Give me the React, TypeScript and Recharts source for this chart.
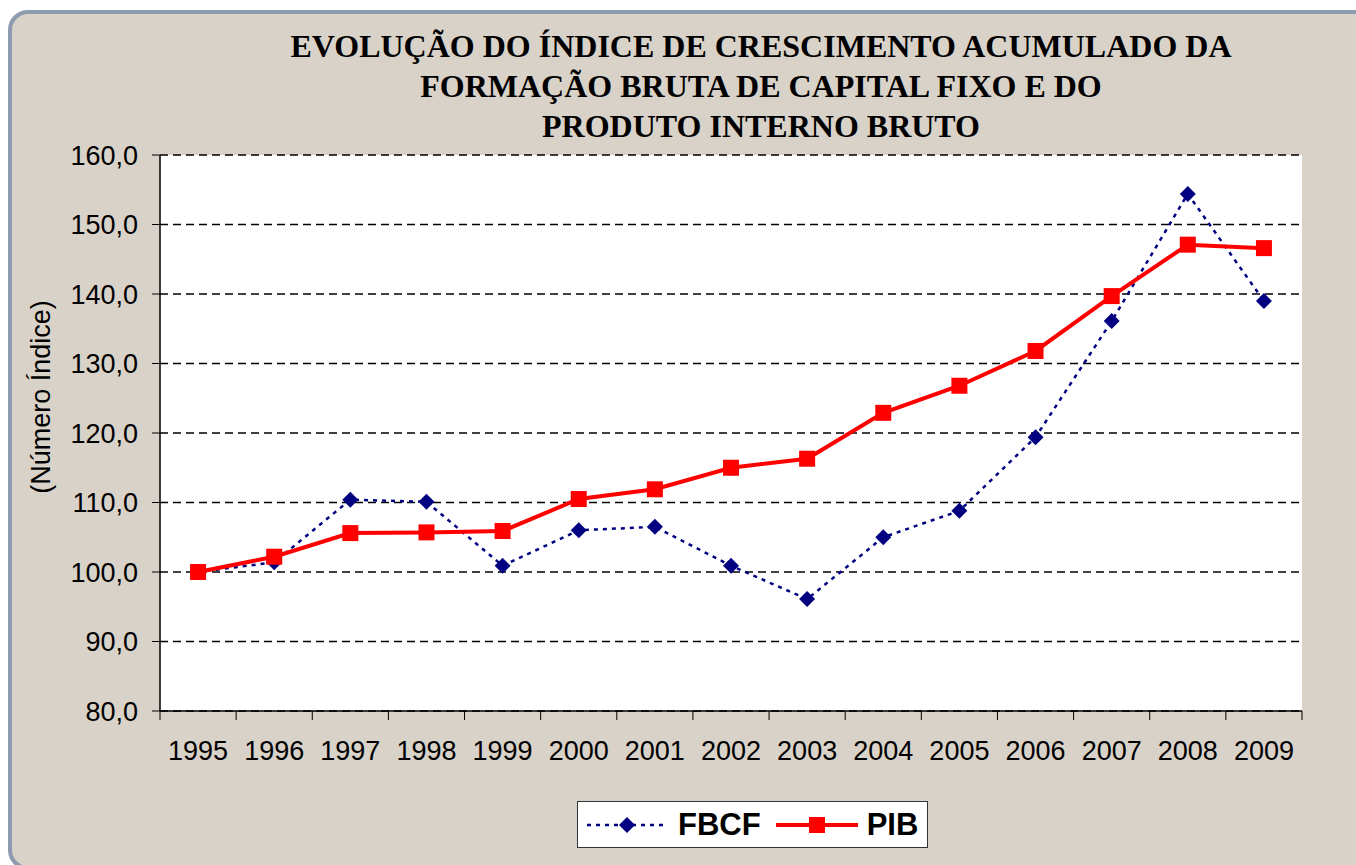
import React from "react";
import {
  LineChart,
  Line,
  XAxis,
  YAxis,
  CartesianGrid,
  Legend,
} from "recharts";

//========== Data ===========

const years = [
  "1995", "1996", "1997", "1998", "1999", "2000", "2001", "2002",
  "2003", "2004", "2005", "2006", "2007", "2008", "2009",
];

const fbcf = [
  100.0, 101.4, 110.4, 110.1, 100.9, 106.0, 106.5, 100.9,
  96.1, 105.0, 108.8, 119.4, 136.1, 154.4, 139.0,
];

const pib = [
  100.0, 102.2, 105.6, 105.7, 105.9, 110.5, 111.9, 115.0,
  116.3, 122.9, 126.8, 131.8, 139.7, 147.1, 146.6,
];

const yTicks = [80, 90, 100, 110, 120, 130, 140, 150, 160];

const titleLines = [
  "EVOLUÇÃO DO ÍNDICE DE CRESCIMENTO ACUMULADO DA",
  "FORMAÇÃO BRUTA DE CAPITAL FIXO E DO",
  "PRODUTO INTERNO BRUTO",
];

const data = years.map((year, i) => ({ year, fbcf: fbcf[i], pib: pib[i] }));

//========== Layout / styles ===========

const W = 1356;
const H = 865;
const PLOT_LEFT = 160;
const PLOT_RIGHT = 1302;
const PLOT_TOP = 155;
const PLOT_BOTTOM = 711;
const X_AXIS_H = 60;
const STEP = (PLOT_RIGHT - PLOT_LEFT) / years.length;

const SANS = "'Liberation Sans', Arial, sans-serif";
const SERIF = "'Liberation Serif', 'Times New Roman', serif";
const NAVY = "#000080";
const RED = "#FF0000";
const FBCF_DASH = "4 5";

const fmt = (v: number) => v.toFixed(1).replace(".", ",");

// diamond marker for FBCF
const Diamond = ({ cx, cy }: any) => {
  if (cx == null || cy == null) return null;
  const r = 8;
  return (
    <path
      d={`M${cx},${cy - r} L${cx + r},${cy} L${cx},${cy + r} L${cx - r},${cy} Z`}
      fill={NAVY}
    />
  );
};

// square marker for PIB
const Square = ({ cx, cy }: any) => {
  if (cx == null || cy == null) return null;
  return <rect x={cx - 8} y={cy - 8} width={16} height={16} fill={RED} />;
};

// x tick: label at category centre, tick marks at category borders
const YearTick = ({ x, y, payload, index }: any) => {
  const axisY = y - 9;
  return (
    <g>
      <line x1={x - STEP / 2} x2={x - STEP / 2} y1={axisY} y2={y} stroke="#000" />
      {index === years.length - 1 && (
        <line x1={x + STEP / 2} x2={x + STEP / 2} y1={axisY} y2={y} stroke="#000" />
      )}
      <text
        x={x}
        y={y + 40}
        textAnchor="middle"
        fill="#000"
        style={{ fontFamily: SANS, fontSize: 27 }}
      >
        {payload.value}
      </text>
    </g>
  );
};

const LegendBox = () => (
  <div
    style={{
      width: 351,
      height: 47,
      boxSizing: "border-box",
      background: "#fff",
      border: "1.5px solid #333",
      display: "flex",
      alignItems: "center",
      paddingLeft: 8,
      fontFamily: SANS,
      fontWeight: "bold",
      fontSize: 31,
      color: "#000",
    }}
  >
    <svg width={78} height={20}>
      <line x1={1} x2={77} y1={10} y2={10} stroke={NAVY} strokeWidth={2.5} strokeDasharray={FBCF_DASH} />
      <Diamond cx={41} cy={10} />
    </svg>
    <span style={{ marginLeft: 14 }}>FBCF</span>
    <svg width={84} height={20} style={{ marginLeft: 14 }}>
      <line x1={1} x2={83} y1={10} y2={10} stroke={RED} strokeWidth={4} />
      <Square cx={42} cy={10} />
    </svg>
    <span style={{ marginLeft: 8 }}>PIB</span>
  </div>
);

//========== Chart ===========

const App: React.FC = () => {
  return (
    <div
      style={{
        position: "absolute",
        left: 0,
        top: 0,
        width: W,
        height: H,
        overflow: "hidden",
        background: "#fff",
      }}
    >
      {/* ====== Frame ====== */}
      <div
        style={{
          position: "absolute",
          left: 8,
          top: 10,
          width: 1380,
          height: 860,
          boxSizing: "border-box",
          background: "#D9D2C8",
          border: "4px solid #8E9AAE",
          borderRadius: 20,
        }}
      />

      {/* ====== Title ====== */}
      <div
        style={{
          position: "absolute",
          left: 261,
          top: 26,
          width: 1000,
          textAlign: "center",
          fontFamily: SERIF,
          fontWeight: "bold",
          fontSize: 32,
          lineHeight: "40px",
          color: "#000",
        }}
      >
        {titleLines.map((t) => (
          <div key={t}>{t}</div>
        ))}
      </div>

      {/* ====== Chart ====== */}
      <div style={{ position: "absolute", left: 0, top: 0 }}>
        <LineChart
          width={W}
          height={H}
          data={data}
          margin={{
            top: PLOT_TOP,
            right: W - PLOT_RIGHT,
            bottom: H - PLOT_BOTTOM - X_AXIS_H,
            left: 0,
          }}
        >
          <CartesianGrid
            yAxisId="left"
            vertical={false}
            fill="#fff"
            stroke="#000"
            strokeWidth={1.3}
            strokeDasharray="8 5"
          />
          <XAxis
            dataKey="year"
            height={X_AXIS_H}
            padding={{ left: STEP / 2, right: STEP / 2 }}
            axisLine={{ stroke: "#000", strokeWidth: 1.5 }}
            tickLine={false}
            tickSize={9}
            tickMargin={0}
            interval={0}
            tick={<YearTick />}
          />
          <YAxis
            yAxisId="left"
            width={PLOT_LEFT}
            domain={[80, 160]}
            ticks={yTicks}
            tickFormatter={fmt}
            axisLine={{ stroke: "#000", strokeWidth: 1.5 }}
            tickLine={{ stroke: "#000" }}
            tickSize={8}
            tickMargin={14}
            tick={{ fill: "#000", fontSize: 27, fontFamily: SANS }}
            label={{
              content: () => (
                <text
                  x={41}
                  y={397}
                  transform="rotate(-90 41 397)"
                  textAnchor="middle"
                  dominantBaseline="central"
                  fill="#000"
                  style={{ fontFamily: SANS, fontSize: 27 }}
                >
                  (Número Índice)
                </text>
              ),
            }}
          />
          <YAxis
            yAxisId="right"
            orientation="right"
            width={0}
            domain={[80, 160]}
            ticks={yTicks}
            tick={false}
            tickLine={false}
            axisLine={{ stroke: "#000", strokeWidth: 1.5 }}
          />
          <Legend
            layout="horizontal"
            verticalAlign="middle"
            align="center"
            wrapperStyle={{ left: 577, top: 801, width: 351, height: 47 }}
            content={() => <LegendBox />}
          />
          <Line
            yAxisId="left"
            type="linear"
            dataKey="fbcf"
            name="FBCF"
            stroke={NAVY}
            strokeWidth={2.5}
            strokeDasharray={FBCF_DASH}
            dot={<Diamond />}
            activeDot={false}
            isAnimationActive={false}
          />
          <Line
            yAxisId="left"
            type="linear"
            dataKey="pib"
            name="PIB"
            stroke={RED}
            strokeWidth={4}
            dot={<Square />}
            activeDot={false}
            isAnimationActive={false}
          />
        </LineChart>
      </div>
    </div>
  );
};

export default App;
